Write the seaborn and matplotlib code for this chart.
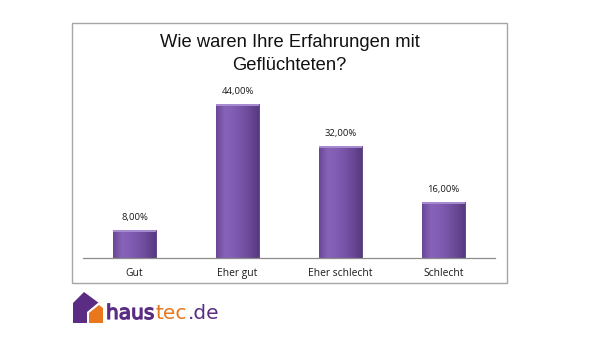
import numpy as np
import pandas as pd
import matplotlib
matplotlib.use("Agg")
import matplotlib.pyplot as plt
import matplotlib.patheffects as pe
from matplotlib.patches import Rectangle, Polygon
from matplotlib.colors import LinearSegmentedColormap
import seaborn as sns

categories = ["Gut", "Eher gut", "Eher schlecht", "Schlecht"]
values = [8.0, 44.0, 32.0, 16.0]
value_labels = ["8,00%", "44,00%", "32,00%", "16,00%"]
title = "Wie waren Ihre Erfahrungen mit\nGeflüchteten?"

sns.set_theme(style="white")
plt.rcParams["font.family"] = ["Liberation Sans", "DejaVu Sans"]

W, H = 600, 337
fig = plt.figure(figsize=(6.0, 3.37), dpi=100)
fig.patch.set_facecolor("white")

def fx(x):
    return x / W

def fy(y):
    return 1 - y / H

# chart frame
fig.patches.append(Rectangle((fx(72), fy(283)), fx(507) - fx(72), fy(23) - fy(283),
                             transform=fig.transFigure, fill=False,
                             edgecolor="#a6a6a6", linewidth=1.0))

ax = fig.add_axes([fx(83), fy(258), fx(495) - fx(83), fy(83) - fy(258)])
df = pd.DataFrame({"cat": categories, "val": values})
sns.barplot(data=df, x="cat", y="val", color="#7752a6", width=0.41,
            saturation=1, ax=ax, edgecolor="#553a7d", linewidth=0.6)
ax.set_xlabel("")
ax.set_ylabel("")
ax.set_yticks([])
for s in ["top", "right", "left"]:
    ax.spines[s].set_visible(False)
ax.spines["bottom"].set_color("#8c8c8c")
ax.spines["bottom"].set_linewidth(0.9)
ax.tick_params(axis="x", which="major", length=0, pad=7, labelsize=7.4,
               labelcolor="#1a1a1a")
ax.set_xticks(range(len(categories)))
ax.set_xticklabels(categories, family=["Open Sans", "DejaVu Sans"])
ax.set_xticks(np.arange(-0.5, len(categories), 1.0), minor=True)
ax.tick_params(axis="x", which="minor", length=3, width=0.8, color="#8c8c8c",
               direction="out")

# gradient fill on bars
cmap = LinearSegmentedColormap.from_list(
    "bar", ["#6a4896", "#8763b8", "#825db4", "#7754a6", "#6a4896", "#573a7f"])
grad = np.linspace(0, 1, 64).reshape(1, -1)
for p in ax.patches:
    x0, y0 = p.get_x(), p.get_y()
    w, h = p.get_width(), p.get_height()
    im = ax.imshow(grad, cmap=cmap, aspect="auto",
                   extent=[x0, x0 + w, y0, y0 + h], zorder=p.get_zorder() + 0.1)
    im.set_clip_path(p)
    ax.add_patch(Rectangle((x0, y0 + h - 0.6), w, 0.6, facecolor="#a68ad0",
                           edgecolor="none", zorder=p.get_zorder() + 0.2))
ax.set_xlim(-0.5, len(categories) - 0.5)
ax.set_ylim(0, 50)

for i, (v, lab) in enumerate(zip(values, value_labels)):
    ax.annotate(lab, (i, v), xytext=(0, 6), textcoords="offset points",
                ha="center", va="bottom", fontsize=6.8, color="#1a1a1a",
                family=["Open Sans", "DejaVu Sans"])

fig.text(fx(289.5), fy(54), title, ha="center", va="center", fontsize=13.2,
         color="#111111", linespacing=1.4)

# logo
purple = "#5b2c83"
orange = "#e8771e"
fig.patches.append(Polygon([(fx(73), fy(323)), (fx(73), fy(303)), (fx(84), fy(292)),
                            (fx(103), fy(306)), (fx(103), fy(323))],
                           closed=True, transform=fig.transFigure,
                           facecolor=purple, edgecolor="none"))
fig.patches.append(Polygon([(fx(87), fy(324)), (fx(87), fy(312)), (fx(99), fy(302)),
                            (fx(104), fy(306)), (fx(104), fy(324))],
                           closed=True, transform=fig.transFigure,
                           facecolor="white", edgecolor="none"))
fig.patches.append(Polygon([(fx(89), fy(323)), (fx(89), fy(313)), (fx(99), fy(305)),
                            (fx(103), fy(308)), (fx(103), fy(323))],
                           closed=True, transform=fig.transFigure,
                           facecolor=orange, edgecolor="none"))

logo_font = ["DejaVu Sans"]
fig.text(fx(106), fy(319), "haus", ha="left", va="baseline", fontsize=14.5,
         color=purple, family=logo_font,
         path_effects=[pe.withStroke(linewidth=0.9, foreground=purple)])
fig.text(fx(155), fy(319), "tec", ha="left", va="baseline", fontsize=14.5,
         color=orange, family=logo_font)
fig.text(fx(188), fy(319), ".de", ha="left", va="baseline", fontsize=14.5,
         color=purple, family=logo_font)

fig.savefig("out.png", dpi=100, facecolor="white")
